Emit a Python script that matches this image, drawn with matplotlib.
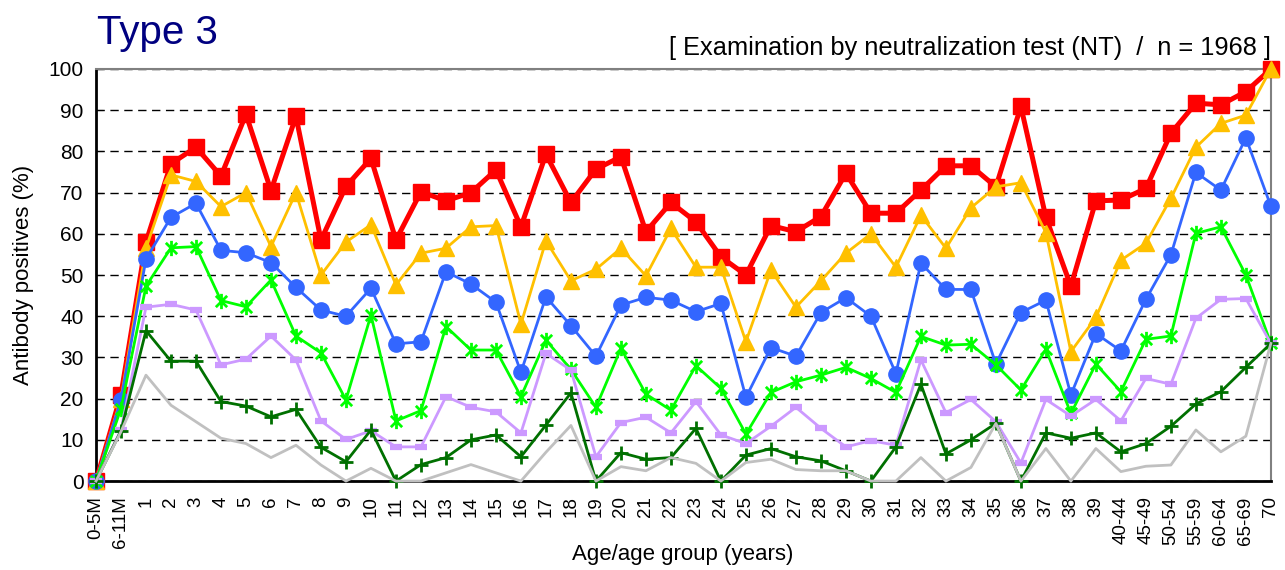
import numpy as np
import matplotlib.pyplot as plt
from matplotlib.path import Path

plt.rcParams['font.family'] = ['Liberation Sans', 'DejaVu Sans']

# Data
ages = ['0-5M', '6-11M'] + [str(a) for a in range(1, 40)] + \
       ['40-44', '45-49', '50-54', '55-59', '60-64', '65-69', '70']

red = [0, 21, 58, 77, 81, 74, 89, 70.5, 88.5, 58.5, 71.5, 78.3,
       58.5, 70.2, 68, 70, 75.5, 61.7, 79.3, 67.6, 75.7, 78.7,
       60.5, 67.6, 62.9, 54.4, 50, 62, 60.5, 64.2, 74.7, 65, 65,
       70.6, 76.5, 76.5, 71.4, 90.9, 64, 47.3, 68, 68.2, 71, 84.4,
       91.7, 91.3, 94.5, 100]
yellow = [0, 20, 56.5, 74.3, 72.7, 66.6, 70, 56.9, 70, 50, 58, 62.2,
          47.6, 55.3, 56.5, 61.7, 62, 38.1, 58.3, 48.6, 51.4, 56.5,
          49.8, 61.3, 51.9, 51.9, 33.8, 51.2, 42.2, 48.6, 55.3, 60,
          51.9, 64.5, 56.5, 66.3, 71.4, 72.4, 60.3, 31.4, 39.7, 53.6,
          57.7, 68.6, 81, 86.8, 88.8, 100]
blue = [0, 19.7, 53.9, 64, 67.4, 56, 55.4, 53, 47, 41.5, 40, 46.8,
        33.3, 33.8, 50.8, 47.8, 43.4, 26.4, 44.7, 37.7, 30.3, 42.7,
        44.6, 43.9, 41.1, 43.1, 20.3, 32.4, 30.3, 40.9, 44.5, 40, 26.1,
        52.9, 46.5, 46.5, 28.4, 40.9, 43.9, 20.9, 35.8, 31.6, 44.1,
        54.9, 74.9, 70.6, 83.3, 66.7]
green = [0, 17.6, 47.3, 56.6, 56.9, 43.8, 42.3, 48.8, 35.2, 31.1, 19.7,
         40.3, 14.6, 17.1, 37.5, 31.8, 31.8, 20.5, 34.2, 27.1, 17.9,
         32.2, 21.1, 17.2, 28, 22.5, 11.4, 21.5, 24.1, 25.7, 27.6, 24.9,
         21.5, 35.1, 33, 33.2, 28.2, 22.1, 32, 16.4, 28.4, 21.7, 34.4,
         35.2, 60.1, 61.7, 50, 33.4]
lavender = [0, 12.4, 42.2, 42.9, 41.5, 28.2, 29.6, 35.2, 29.4, 14.6,
            10.1, 12.2, 8.3, 8.3, 20.5, 17.9, 16.8, 11.7, 31, 26.9, 5.9,
            14.2, 15.5, 11.7, 19.3, 11.2, 9.1, 13.3, 17.9, 12.8, 8.3,
            9.8, 8.7, 29.4, 16.6, 19.8, 14.4, 4.4, 19.8, 15.8, 19.8,
            14.6, 24.9, 23.5, 39.5, 44.1, 44.3, 33.4]
dkgreen = [0, 12.2, 36.5, 29.1, 29.1, 19.3, 18.2, 15.6, 17.4, 8.2, 4.7,
           12.4, 0, 4, 5.7, 10, 11.2, 5.9, 13.6, 21.4, 0, 6.9, 5.3, 5.7,
           12.8, 0, 6.3, 7.9, 5.9, 4.9, 2.5, 0, 8.3, 23.5, 6.6, 10, 14,
           0, 11.7, 10.4, 11.7, 7.1, 9.1, 13.3, 18.7, 21.7, 27.6, 33.4]
gray = [0, 12, 25.7, 18.4, 14.4, 10.4, 9.1, 5.7, 8.7, 3.9, 0, 3.1,
        0, 0, 2, 4, 2, 0, 7, 13.5, 0, 3.5, 2.5, 5.7, 4.3, 0, 4.5, 5.3,
        2.8, 2.5, 2.5, 0, 0, 5.7, 0, 3.3, 14, 0, 7.9, 0, 7.9, 2.3, 3.6,
        3.9, 12.4, 7.1, 10.9, 33.4]

x = np.arange(len(ages))

# asterisk marker: X plus vertical bar
star = Path([(-1, -1), (1, 1), (-1, 1), (1, -1), (0, -1.35), (0, 1.35)],
            [Path.MOVETO, Path.LINETO] * 3)

fig = plt.figure(figsize=(12.85, 5.7), dpi=100)
ax = fig.add_axes([0.0747, 0.156, 0.9143, 0.723])

ax.plot(x, red, color='#FF0000', lw=3.6, marker='s', ms=11, clip_on=False, zorder=3)
ax.plot(x, yellow, color='#FFC000', lw=2, marker='^', ms=11, clip_on=False, zorder=3)
ax.plot(x, blue, color='#3366FF', lw=2, marker='o', ms=11, clip_on=False, zorder=3)
ax.plot(x, green, color='#00FF00', lw=2, marker=star, ms=11, mew=2, clip_on=False, zorder=3)
ax.plot(x, lavender, color='#CC99FF', lw=2, marker='_', ms=8, mew=4.5, clip_on=False, zorder=3)
ax.plot(x, dkgreen, color='#007000', lw=2, marker='+', ms=10, mew=2, clip_on=False, zorder=3)
ax.plot(x, gray, color='#C0C0C0', lw=2, clip_on=False, zorder=3)

ax.set_xlim(0, len(ages) - 1)
ax.set_ylim(0, 100)
ax.set_yticks(range(0, 101, 10))
ax.set_xticks(x)
ax.set_xticklabels(ages, rotation=90, fontsize=13.5)
ax.tick_params(axis='x', length=0, pad=11)
ax.tick_params(axis='y', direction='in', length=5, labelsize=15, pad=9)
ax.yaxis.grid(True, linestyle=(0, (6, 4)), color='black', lw=1)

for s in ['left', 'bottom']:
    ax.spines[s].set_color('black')
    ax.spines[s].set_linewidth(2)
for s in ['top', 'right']:
    ax.spines[s].set_color('#808080')
    ax.spines[s].set_linewidth(1.5)

ax.set_ylabel('Antibody positives (%)', fontsize=16, labelpad=10)
fig.text(683 / 1285, 1 - 560 / 570, 'Age/age group (years)', fontsize=16,
         ha='center', va='baseline')

fig.text(0.0755, 1 - 44 / 570, 'Type 3', color='#000080', fontsize=29, va='baseline')
fig.text(0.989, 1 - 55 / 570, '[ Examination by neutralization test (NT)  /  n = 1968 ]',
         fontsize=18.3, ha='right', va='baseline')

fig.savefig('out.png', dpi=100)
